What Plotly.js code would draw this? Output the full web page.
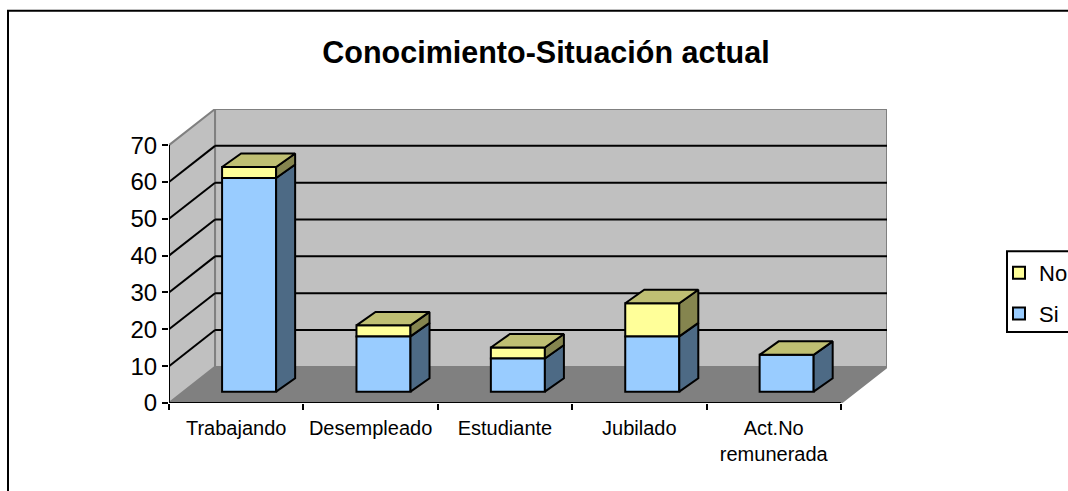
<!DOCTYPE html>
<html>
<head>
<meta charset="utf-8">
<script src="https://cdn.plot.ly/plotly-3.0.1.min.js"></script>
<style>html,body{margin:0;padding:0;background:#fff;overflow:hidden}</style>
</head>
<body>
<div id="chart" style="width:1068px;height:491px"></div>
<script>
var categories = ["Trabajando", "Desempleado", "Estudiante", "Jubilado", "Act.No<br>remunerada"];
var siValues = [58, 15, 9, 15, 10];
var noValues = [3, 3, 3, 9, 0];
var yTicks = [0, 10, 20, 30, 40, 50, 60, 70];

var W = 1068, H = 491;
var L = 169, R = 887, B = 403, T = 108.5;
var depthX = 0.3428, depthY = 9.8;
var nCat = categories.length, yMax = 70;
var barShiftX = 0.596, barW = 0.402, barBase = 3.07, barDX = 0.1416, barDY = 3.66;
var F = "'Liberation Sans', Arial, sans-serif";

var xRange = [0, nCat + depthX], yRange = [0, yMax + depthY];
function px2paperX(p){ return (p - L) / (R - L); }
function px2paperY(p){ return (B - p) / (B - T); }
function poly(pts){
  return 'M' + pts.map(function(p){ return p[0] + ',' + p[1]; }).join('L') + 'Z';
}
function wall(pts, fill){
  return {type:'path', layer:'below', xref:'x', yref:'y', path:poly(pts), fillcolor:fill,
          line:{color:'#808080', width:2}};
}
function seg(x0, y0, x1, y1, color, w){
  return {type:'line', layer:'below', xref:'x', yref:'y', x0:x0, y0:y0, x1:x1, y1:y1,
          line:{color:color, width:w}};
}

var shapes = [
  wall([[0,0],[nCat,0],[nCat+depthX,depthY],[depthX,depthY]], '#808080'),
  wall([[0,0],[depthX,depthY],[depthX,yMax+depthY],[0,yMax]], '#C0C0C0'),
  wall([[depthX,depthY],[nCat+depthX,depthY],[nCat+depthX,yMax+depthY],[depthX,yMax+depthY]], '#C0C0C0')
];
yTicks.forEach(function(v){
  if (v === 0 || v === yMax) return;
  shapes.push(seg(0, v, depthX, v + depthY, '#000', 2));
  shapes.push(seg(depthX, v + depthY, nCat + depthX, v + depthY, '#000', 2));
});
shapes.push(seg(0, 0, 0, yMax, '#000', 2));
shapes.push(seg(0, 0, nCat, 0, '#000', 2));
shapes.push({type:'path', xref:'paper', yref:'paper',
  path:'M'+px2paperX(8)+','+px2paperY(H+4)+'L'+px2paperX(8)+','+px2paperY(10)+'L'+px2paperX(W+4)+','+px2paperY(10),
  line:{color:'#000', width:2}});
shapes.push({type:'path', xref:'paper', yref:'paper',
  path:'M'+px2paperX(W+4)+','+px2paperY(251)+'L'+px2paperX(1007)+','+px2paperY(251)+'L'+px2paperX(1007)+','+px2paperY(332)+'L'+px2paperX(W+4)+','+px2paperY(332),
  line:{color:'#000', width:2}});

var idx = categories.map(function(_, i){ return i; });
var barX = idx.map(function(i){ return i + barShiftX; });
var baseSi = idx.map(function(){ return barBase; });
var baseNo = idx.map(function(i){ return barBase + siValues[i]; });

function faceTrace(pts, fill){
  var closed = pts.concat([pts[0]]);
  return {type:'scatter', mode:'lines', x:closed.map(function(p){return p[0];}),
    y:closed.map(function(p){return p[1];}), fill:'toself', fillcolor:fill,
    line:{color:'#000', width:2}, showlegend:false, hoverinfo:'skip'};
}
var traces = [
  {type:'bar', name:'No', x:barX, y:noValues, base:baseNo, width:barW, legendgroup:'no',
   marker:{color:'#FFFF99', line:{color:'#000', width:2}}},
  {type:'bar', name:'Si', x:barX, y:siValues, base:baseSi, width:barW, legendgroup:'si',
   marker:{color:'#99CCFF', line:{color:'#000', width:2}}}
];
idx.forEach(function(i){
  var xr = barX[i] + barW/2, xl = barX[i] - barW/2;
  var y0 = baseSi[i], y1 = baseNo[i], y2 = y1 + noValues[i];
  traces.push(faceTrace([[xr,y0],[xr+barDX,y0+barDY],[xr+barDX,y1+barDY],[xr,y1]], '#4D6A85'));
  if (noValues[i] > 0) {
    traces.push(faceTrace([[xr,y1],[xr+barDX,y1+barDY],[xr+barDX,y2+barDY],[xr,y2]], '#85854F'));
  }
  traces.push(faceTrace([[xl,y2],[xr,y2],[xr+barDX,y2+barDY],[xl+barDX,y2+barDY]], '#BFBF73'));
});

var layout = {
  width:W, height:H, autosize:false,
  margin:{l:L, r:W-R, t:T, b:H-B, pad:0},
  paper_bgcolor:'#fff', plot_bgcolor:'rgba(0,0,0,0)',
  barmode:'overlay', showlegend:true,
  title:{text:'<b>Conocimiento-Situación actual</b>', x:546/W, xanchor:'center', xref:'container',
         y:1-52/H, yanchor:'middle', yref:'container', font:{family:F, size:30.5, color:'#000'}},
  xaxis:{range:xRange, showgrid:false, zeroline:false, showline:false,
         tickmode:'array', tickvals:idx.map(function(i){return i+0.5;}), ticktext:categories,
         ticks:'', ticklabelstandoff:11, tickangle:0, tickfont:{family:F, size:20, color:'#000'}, automargin:false,
         minor:{tickmode:'array', tickvals:idx.concat([nCat]), ticks:'outside', ticklen:6, tickwidth:2, tickcolor:'#000', showgrid:false}},
  yaxis:{range:yRange, showgrid:false, zeroline:false, showline:false,
         tickmode:'array', tickvals:yTicks, ticks:'outside', ticklen:6, tickwidth:2, tickcolor:'#000',
         tickfont:{family:F, size:24, color:'#000'}, automargin:false},
  legend:{x:999/W, xref:'container', xanchor:'left', y:1-252/H, yref:'container', yanchor:'top',
          traceorder:'grouped', tracegroupgap:9, bgcolor:'rgba(0,0,0,0)', borderwidth:0,
          font:{family:F, size:22, color:'#000'}},
  shapes:shapes
};
Plotly.newPlot('chart', traces, layout, {displayModeBar:false, staticPlot:true});
</script>
</body>
</html>
